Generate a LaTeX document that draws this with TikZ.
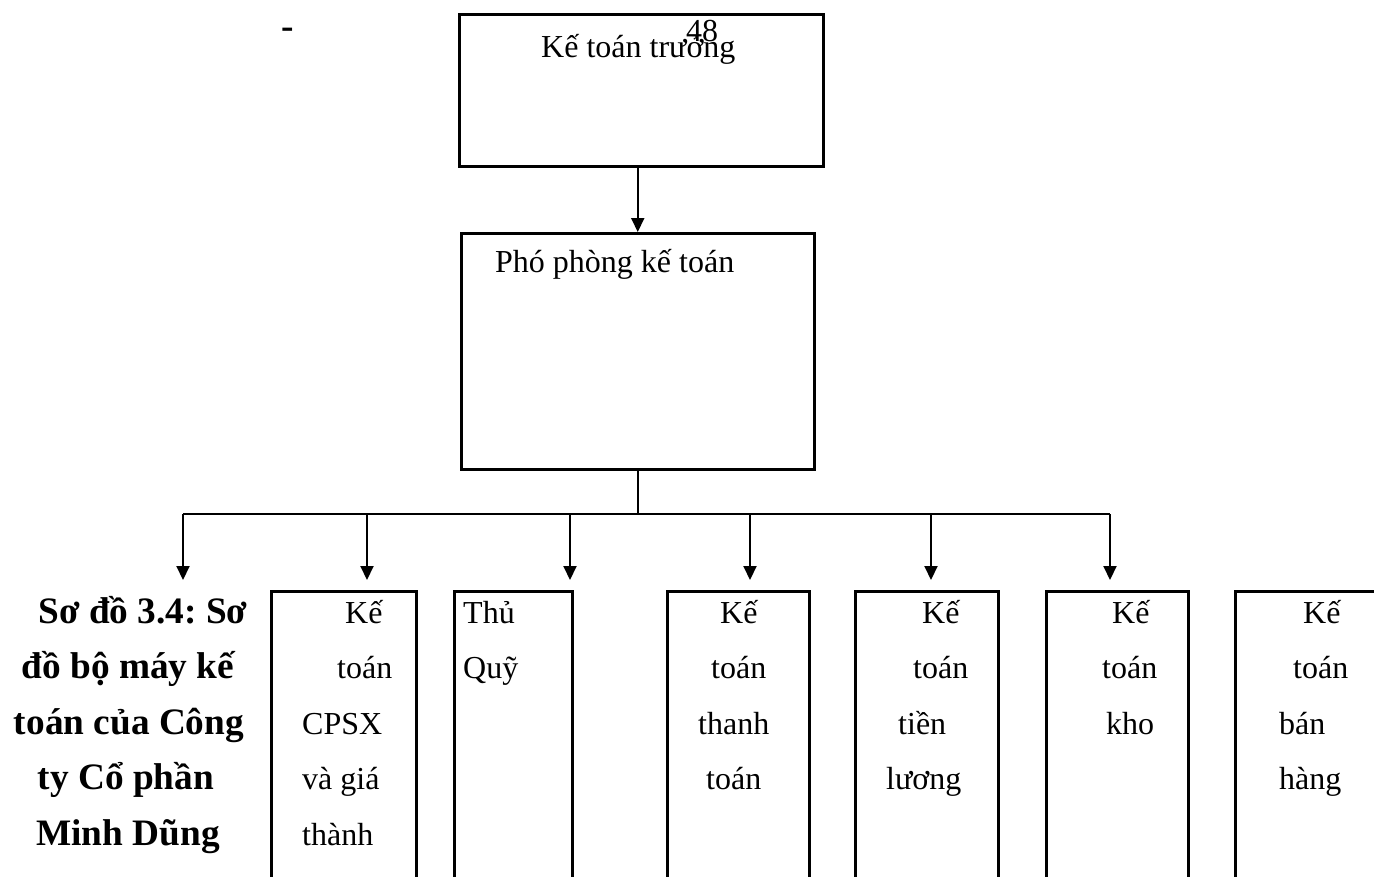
\documentclass[tikz,border=0pt]{standalone}
\usepackage{fontspec}
\setmainfont{Liberation Serif}
\usetikzlibrary{positioning}
\usetikzlibrary{arrows.meta}
\frenchspacing

\begin{document}
\begin{tikzpicture}[x=1pt, y=-1pt,
    box/.style={draw, line width=2.5pt, inner sep=0pt, anchor=north west},
    txt/.style={inner sep=0pt, anchor=base west, font=\fontsize{32}{38}\selectfont},
    ttl/.style={inner sep=0pt, anchor=base, font=\fontsize{37.3}{44}\bfseries\selectfont},
    arr/.style={line width=2pt, -{Triangle[length=14pt,width=13pt]}},
    link/.style={line width=2pt}]

    \useasboundingbox (0,0) rectangle (1374,876);
    \clip (0,0) rectangle (1374,876);

    \newcommand{\drawStaff}[4]{
      % #1 = node name
      % #2 = left edge (x axis)
      % #3 = box width
      % #4 = lines, as offset/text
      \node [box, minimum width=#3pt, minimum height=300pt] (#1) at (#2, 590) {};
      \foreach \dx/\word [count=\i] in {#4} {
        \node [txt] (#1-\i) at ({#2 + \dx}, {567.5 + 55.5*\i}) {\word};
      }
    }

    % top of the chart
    \node [inner sep=0pt, font=\fontsize{37.3}{44}\bfseries\selectfont] (dash) at (288, 33) {-};
    \node [box, minimum width=364pt, minimum height=152pt] (kttruong) at (458, 13) {};
    \node [txt] (kttruong-t) at (541, 57) {Kế toán trưởng};
    \node [txt] (page) at (686, 41) {48};

    \node [box, minimum width=353pt, minimum height=236pt] (ppkt) at (460, 232) {};
    \node [txt] (ppkt-t) at (495, 272) {Phó phòng kế toán};

    % the staff boxes
    \drawStaff{cpsx}{270}{145}{75/Kế, 67/toán, 32/CPSX, 32/và giá, 32/thành}
    \drawStaff{thuquy}{453}{118}{10/Thủ, 10/Quỹ}
    \drawStaff{thanhtoan}{666}{142}{54/Kế, 45/toán, 32/thanh, 40/toán}
    \drawStaff{tienluong}{854}{143}{68/Kế, 59/toán, 44/tiền, 32/lương}
    \drawStaff{kho}{1045}{142}{67/Kế, 57/toán, 61/kho}
    \drawStaff{banhang}{1234}{200}{69/Kế, 59/toán, 45/bán, 45/hàng}

    % caption on the left
    \foreach \cx/\word [count=\i] in {143/Sơ đồ 3.4: Sơ, 128/đồ bộ máy kế,
        129/toán của Công, 126/ty Cổ phần, 128/Minh Dũng} {
      \node [ttl] (title-\i) at (\cx, {567.5 + 55.5*\i}) {\word};
    }

    % connectors
    \draw [arr] (kttruong.south -| ppkt.north) -- (ppkt.north);

    \coordinate (busy) at (0, 514);
    \foreach \x [count=\i] in {183, 367, 570, 750, 931, 1110} {
      \coordinate (top\i) at (\x, 514);
      \coordinate (tip\i) at (\x, 580);
    }
    \draw [link] (ppkt.south) -- (ppkt.south |- busy);
    \draw [link] (top1) -- (top6);
    \foreach \i in {1, ..., 6} {
      \draw [arr] (top\i) -- (tip\i);
    }

\end{tikzpicture}
\end{document}
